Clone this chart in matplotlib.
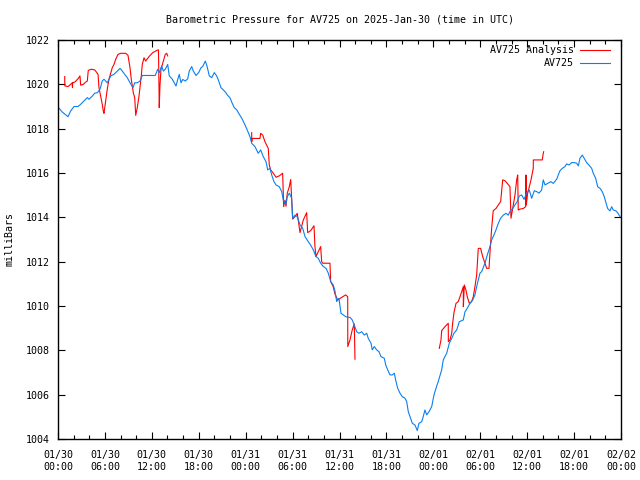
import numpy as np
import matplotlib
matplotlib.use("Agg")
import matplotlib.pyplot as plt
from matplotlib.ticker import MultipleLocator, FixedLocator

# hours since 2025-01-30 00:00 UTC, pressure in mbar
blue_t = [0.06, 0.55, 0.90, 1.28, 1.62, 2.05, 2.56, 2.90, 3.32, 3.75, 3.96, 4.39, 4.69, 5.03, 5.37, 5.66, 5.88,
          6.30, 6.74, 7.16, 7.58, 7.93, 8.22, 8.53, 8.86, 9.21, 9.59, 9.81, 10.14, 10.49, 10.78, 11.21, 11.64,
          12.44, 12.75, 12.95, 13.26, 13.47, 13.72, 14.03, 14.23, 14.58, 14.87, 15.09, 15.31, 15.51, 15.73,
          15.95, 16.28, 16.59, 16.79, 17.10, 17.30, 17.65, 17.99, 18.29, 18.50, 18.84, 19.05, 19.35, 19.66,
          19.99, 20.29, 20.55, 20.84, 21.14, 21.48, 21.70, 21.99, 22.25, 22.54, 22.85, 23.18, 23.53, 23.82,
          24.13, 24.55, 24.77, 25.19, 25.61, 25.92, 26.25, 26.60, 26.82, 27.11, 27.33, 27.62, 27.88, 28.30,
          28.61, 28.81, 29.12, 29.32, 29.58, 29.88, 30.01, 30.31, 30.60, 30.95, 31.29, 31.59, 32.01, 32.31,
          32.65, 32.99, 33.29, 33.59, 33.93, 34.27, 34.57, 34.87, 35.20, 35.42, 35.64, 35.93, 36.19, 36.48,
          36.79, 37.05, 37.34, 37.63, 37.89, 38.20, 38.49, 38.84, 39.17, 39.48, 39.68, 40.03, 40.19, 40.45,
          40.75, 41.05, 41.30, 41.73, 41.91, 42.16, 42.46, 42.75, 43.01, 43.18, 43.44, 43.73, 44.03, 44.37,
          44.59, 44.80, 45.01, 45.31, 45.65, 45.95, 46.16, 46.51, 46.71, 46.93, 47.15, 47.44, 47.79, 48.04,
          48.21, 48.63, 49.07, 49.27, 49.71, 50.04, 50.35, 50.64, 50.99, 51.32, 51.83, 52.05, 52.34, 52.69,
          53.03, 53.32, 53.54, 53.75, 53.96, 54.18, 54.60, 54.90, 55.24, 55.46, 55.75, 56.01, 56.31, 56.61,
          56.94, 57.29, 57.58, 57.80, 58.15, 58.44, 58.73, 58.99, 59.30, 59.59, 59.94, 60.27, 60.58, 60.91,
          61.22, 61.51, 61.85, 62.06, 62.28, 62.62, 63.04, 63.34, 63.77, 64.19, 64.49, 64.83, 65.05, 65.35,
          65.69, 66.02, 66.33, 66.54, 66.75, 67.05, 67.30, 67.61, 67.90, 68.25, 68.45, 68.76, 69.02, 69.31,
          69.60, 69.86, 70.04, 70.29, 70.59, 70.81, 71.01, 71.32, 71.57, 71.87]
blue_p = [1018.95, 1018.75, 1018.65, 1018.54, 1018.8, 1019.0, 1019.0, 1019.1, 1019.25, 1019.4, 1019.33, 1019.47,
          1019.6, 1019.62, 1019.78, 1020.15, 1020.23, 1020.07, 1020.38, 1020.45, 1020.6, 1020.72, 1020.6,
          1020.45, 1020.3, 1020.07, 1019.85, 1020.07, 1020.07, 1020.15, 1020.4, 1020.4, 1020.4, 1020.4,
          1020.68, 1020.53, 1020.83, 1020.6, 1020.68, 1020.9, 1020.38, 1020.25, 1020.07, 1019.92, 1020.22,
          1020.45, 1020.07, 1020.22, 1020.15, 1020.25, 1020.6, 1020.8, 1020.6, 1020.4, 1020.53, 1020.75,
          1020.8, 1021.05, 1020.83, 1020.38, 1020.3, 1020.53, 1020.38, 1020.15, 1019.85, 1019.75, 1019.62,
          1019.5, 1019.4, 1019.17, 1018.95, 1018.85, 1018.65, 1018.45, 1018.24, 1018.0, 1017.64, 1017.34,
          1017.19, 1016.89, 1017.04, 1016.74, 1016.51, 1016.14, 1016.21, 1015.91, 1015.61, 1015.46, 1015.38,
          1015.16, 1014.78, 1014.56, 1014.93, 1015.09, 1014.86, 1013.96, 1014.1, 1014.03, 1013.66, 1013.51,
          1013.13, 1012.9, 1012.75, 1012.53, 1012.23, 1012.15, 1011.93, 1011.78, 1011.7, 1011.48, 1011.1,
          1010.95, 1010.68, 1010.2, 1010.35, 1009.67, 1009.6, 1009.52, 1009.49, 1009.49, 1009.37, 1009.14,
          1008.84, 1008.77, 1008.84, 1008.69, 1008.77, 1008.54, 1008.32, 1008.02, 1008.17, 1008.02, 1007.94,
          1007.72, 1007.64, 1007.34, 1007.12, 1006.89, 1006.89, 1006.97, 1006.66, 1006.29, 1006.07, 1005.91,
          1005.84, 1005.69, 1005.23, 1005.01, 1004.71, 1004.63, 1004.38, 1004.71, 1004.78, 1005.01, 1005.31,
          1005.09, 1005.23, 1005.46, 1005.91, 1006.14, 1006.6, 1007.12, 1007.57, 1007.87, 1008.32, 1008.54,
          1008.77, 1008.92, 1009.29, 1009.37, 1009.74, 1009.9, 1010.12, 1010.27, 1010.5, 1010.87, 1011.17,
          1011.48, 1011.55, 1011.93, 1012.3, 1012.68, 1012.98, 1013.2, 1013.43, 1013.73, 1013.96, 1014.1,
          1014.18, 1014.1, 1014.26, 1014.4, 1014.56, 1014.71, 1014.96, 1015.01, 1014.81, 1015.09, 1015.23,
          1014.86, 1015.2, 1015.16, 1015.09, 1015.23, 1015.69, 1015.46, 1015.53, 1015.61, 1015.53, 1015.72,
          1016.1, 1016.21, 1016.29, 1016.41, 1016.36, 1016.47, 1016.47, 1016.44, 1016.32, 1016.66, 1016.81,
          1016.66, 1016.47, 1016.36, 1016.21, 1015.99, 1015.76, 1015.38, 1015.31, 1015.16, 1014.93, 1014.71,
          1014.4, 1014.29, 1014.48, 1014.33, 1014.3, 1014.21, 1014.03]

red1_t = [0.86, 0.87, 1.28, 1.62, 1.83, 1.85, 1.88, 2.14, 2.56, 2.81, 2.90, 3.24, 3.54, 3.75, 3.87, 4.26, 4.69,
          4.90, 5.12, 5.24, 5.46, 5.66, 5.79, 5.88, 6.10, 6.30, 6.52, 6.82, 6.94, 7.16, 7.38, 7.67, 8.02, 8.66,
          8.95, 9.21, 9.37, 9.63, 9.81, 9.94, 10.14, 10.36, 10.65, 10.78, 11.00, 11.21, 11.64, 12.11, 12.75,
          12.85, 12.95, 13.04, 13.17, 13.72, 13.90, 14.03]
red1_p = [1020.35, 1019.93, 1019.9, 1020.0, 1020.07, 1019.85, 1020.07, 1020.1, 1020.25, 1020.38, 1019.96,
          1020.0, 1020.1, 1020.15, 1020.63, 1020.68, 1020.65, 1020.56, 1020.45, 1019.85, 1019.47, 1019.1,
          1018.8, 1018.69, 1019.25, 1019.78, 1020.23, 1020.6, 1020.75, 1020.9, 1021.13, 1021.35, 1021.4,
          1021.4, 1021.31, 1020.75, 1020.23, 1019.62, 1019.4, 1018.6, 1018.95, 1019.47, 1020.38, 1020.9,
          1021.2, 1021.05, 1021.25, 1021.43, 1021.55, 1021.55, 1018.95, 1019.93, 1020.68, 1021.35, 1021.4,
          1021.28]
red2_t = [24.77, 24.78, 24.81, 25.83, 25.92, 26.18, 26.47, 26.77, 26.89, 27.02, 27.20, 27.53, 27.88, 28.30,
          28.73, 28.86, 29.03, 29.16, 29.32, 29.58, 29.76, 30.01, 30.31, 30.60, 30.95, 31.37, 31.80, 31.93,
          32.31, 32.74, 32.86, 32.99, 33.29, 33.59, 33.72, 33.85, 34.78, 34.87, 35.20, 35.42, 35.77, 36.28,
          36.79, 37.05, 37.06, 37.34, 37.63, 37.89, 37.98]
red2_p = [1017.82, 1017.41, 1017.56, 1017.56, 1017.79, 1017.71, 1017.41, 1017.19, 1017.11, 1016.36, 1016.14,
          1015.99, 1015.81, 1015.87, 1015.99, 1014.48, 1014.78, 1014.5, 1015.09, 1015.38, 1015.71, 1013.92,
          1014.03, 1014.18, 1013.31, 1013.88, 1014.21, 1013.31, 1013.4, 1013.62, 1012.68, 1012.23, 1012.45,
          1012.68, 1012.0, 1011.93, 1011.93, 1011.1, 1010.87, 1010.54, 1010.27, 1010.39, 1010.5, 1010.42,
          1008.17, 1008.47, 1008.92, 1009.19, 1007.6]
red3_t = [48.76, 48.98, 49.07, 49.49, 49.91, 49.92, 50.13, 50.35, 50.47, 50.64, 50.90, 51.19, 51.41, 51.62,
          51.83, 51.84, 51.96, 52.17, 52.34, 52.60, 52.90, 53.11, 53.32, 53.54, 53.75, 54.05, 54.31, 54.60,
          54.82, 55.12, 55.24, 55.46, 55.66, 56.01, 56.31, 56.61, 56.87, 57.16, 57.46, 57.80, 57.93, 58.15,
          58.44, 58.66, 58.79, 58.86, 59.08, 59.50, 59.81, 59.85, 59.89, 60.06, 60.23, 60.49, 60.65, 60.78,
          60.79, 61.93, 62.06, 62.11]
red3_p = [1008.09, 1008.47, 1008.89, 1009.07, 1009.22, 1008.39, 1008.47, 1008.77, 1009.22, 1009.7, 1010.12,
          1010.2, 1010.42, 1010.65, 1010.87, 1009.97, 1010.95, 1010.72, 1010.42, 1010.12, 1010.2, 1010.42,
          1010.87, 1011.4, 1012.6, 1012.6, 1012.23, 1011.93, 1011.7, 1011.7, 1012.38, 1013.51, 1014.3, 1014.4,
          1014.56, 1014.71, 1015.69, 1015.65, 1015.53, 1015.38, 1013.96, 1014.4, 1015.01, 1015.69, 1015.91,
          1014.33, 1014.37, 1014.4, 1014.48, 1015.91, 1014.56, 1015.09, 1015.31, 1015.69, 1015.99, 1016.21,
          1016.59, 1016.59, 1016.89, 1016.96]

tick_hours = list(range(0, 73, 6))
tick_labels = ["01/30\n00:00", "01/30\n06:00", "01/30\n12:00", "01/30\n18:00",
               "01/31\n00:00", "01/31\n06:00", "01/31\n12:00", "01/31\n18:00",
               "02/01\n00:00", "02/01\n06:00", "02/01\n12:00", "02/01\n18:00",
               "02/02\n00:00"]
y_ticks = list(range(1004, 1023, 2))

plt.rcParams['font.family'] = ['DejaVu Sans Mono']
fs = 7.2

fig = plt.figure(figsize=(6.4, 4.8), dpi=100)
ax = fig.add_axes([58/640, 1-439/480, (621-58)/640, (439-40)/480])

red_t = red1_t + [np.nan] + red2_t + [np.nan] + red3_t
red_p = red1_p + [np.nan] + red2_p + [np.nan] + red3_p
ax.plot(red_t, red_p, color='#ff0000', lw=0.8, label='AV725 Analysis')
ax.plot(blue_t, blue_p, color='#0a7ff0', lw=0.8, label='AV725')

ax.set_xlim(0, 72)
ax.set_ylim(1004, 1022)
ax.xaxis.set_major_locator(FixedLocator(tick_hours))
ax.set_xticklabels(tick_labels, fontsize=fs, linespacing=1.25)
ax.xaxis.set_minor_locator(MultipleLocator(2))
ax.set_yticks(y_ticks)
ax.set_yticklabels([str(v) for v in y_ticks], fontsize=fs)
ax.tick_params(which='major', direction='in', length=5, width=0.8, top=True, right=True)
ax.tick_params(which='minor', direction='in', length=3, width=0.8, top=True, right=True)
ax.tick_params(axis='x', which='major', pad=8)
ax.tick_params(axis='y', which='major', pad=6)
for s in ax.spines.values():
    s.set_linewidth(1.0)

ax.set_ylabel('milliBars', fontsize=fs, labelpad=8)
fig.text(339.5/640, 1-19/480, 'Barometric Pressure for AV725 on 2025-Jan-30 (time in UTC)',
         ha='center', va='center', fontsize=fs)

ax.legend(loc='upper right', frameon=False, markerfirst=False, fontsize=fs,
          handlelength=3.0, handletextpad=0.6, labelspacing=0.35, borderaxespad=0.3,
          bbox_to_anchor=(1.0 - 4/563, 1.0 + 2/399))

fig.savefig('out.png', dpi=100)
